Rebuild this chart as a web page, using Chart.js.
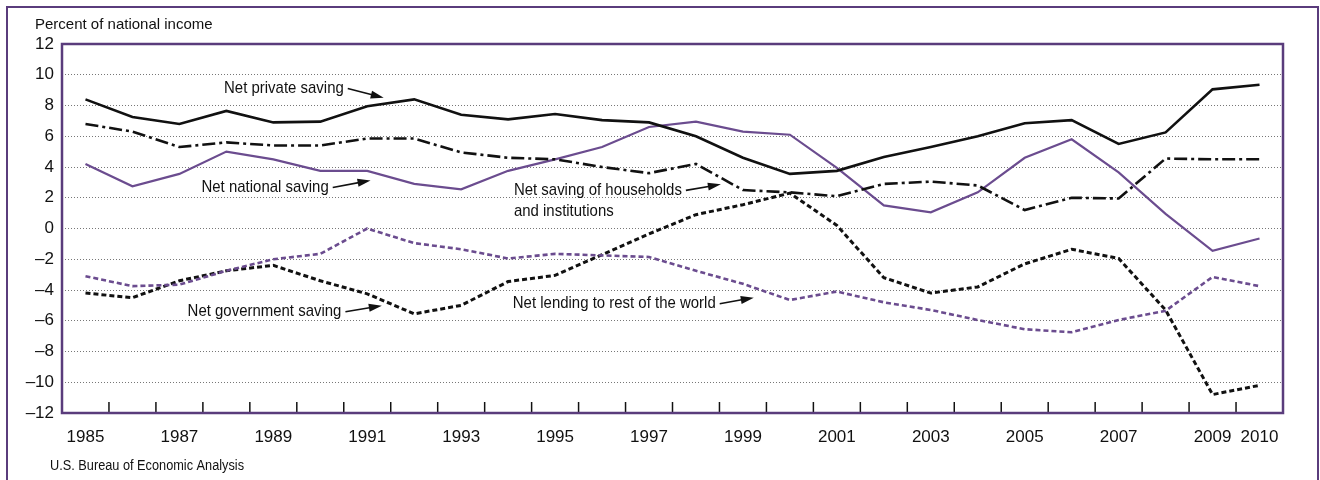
<!DOCTYPE html>
<html>
<head>
<meta charset="utf-8">
<script src="https://cdn.jsdelivr.net/npm/chart.js@4.4.1/dist/chart.umd.min.js"></script>
<style>
  body { margin: 0; background: #fff; }
  #wrap { width: 1320px; height: 480px; }
</style>
</head>
<body>
<div id="wrap"><canvas id="chart" width="1320" height="480"></canvas></div>
<script>
const years = [1985, 1986, 1987, 1988, 1989, 1990, 1991, 1992, 1993, 1994, 1995, 1996, 1997,
    1998, 1999, 2000, 2001, 2002, 2003, 2004, 2005, 2006, 2007, 2008, 2009, 2010];

const netPrivate = [8.4, 7.25, 6.8, 7.65, 6.9, 6.95, 7.95, 8.4, 7.4, 7.1, 7.45, 7.05, 6.9,
    6.0, 4.6, 3.55, 3.75, 4.65, 5.3, 6.0, 6.85, 7.05, 5.5, 6.25, 9.05, 9.35];
const netHouseholds = [6.8, 6.3, 5.3, 5.6, 5.4, 5.4, 5.85, 5.85, 4.95, 4.6, 4.5, 4.0, 3.6,
    4.2, 2.5, 2.35, 2.1, 2.9, 3.05, 2.8, 1.2, 2.0, 1.95, 4.55, 4.5, 4.5];
const netNational = [4.2, 2.75, 3.55, 5.0, 4.5, 3.75, 3.75, 2.9, 2.55, 3.75, 4.5, 5.3, 6.6,
    6.95, 6.3, 6.1, 3.95, 1.5, 1.05, 2.35, 4.6, 5.8, 3.65, 0.95, -1.45, -0.65];
const netLending = [-3.1, -3.75, -3.65, -2.75, -2.0, -1.65, 0, -0.95, -1.35, -1.95, -1.65, -1.75, -1.85,
    -2.75, -3.6, -4.65, -4.1, -4.8, -5.3, -5.95, -6.55, -6.75, -5.95, -5.35, -3.15, -3.75];
const netGovernment = [-4.2, -4.5, -3.4, -2.75, -2.4, -3.4, -4.25, -5.55, -5.0, -3.45, -3.05, -1.7, -0.35,
    0.9, 1.55, 2.3, 0.2, -3.2, -4.2, -3.8, -2.3, -1.35, -1.95, -5.3, -10.8, -10.2];

const yTicks = [-12, -10, -8, -6, -4, -2, 0, 2, 4, 6, 8, 10, 12];

// label text, where it ends (year index, value) and where the arrow points
const notes = [
    { lines: ['Net private saving'], x: 5.5, y: 9.1, tipX: 6.35, tipY: 8.5 },
    { lines: ['Net national saving'], x: 5.18, y: 2.67, tipX: 6.07, tipY: 3.13 },
    { lines: ['Net saving of households', 'and institutions'], x: 12.7, y: 2.48, tipX: 13.53, tipY: 2.87 },
    { lines: ['Net government saving'], x: 5.45, y: -5.41, tipX: 6.31, tipY: -5.02 },
    { lines: ['Net lending to rest of the world'], x: 13.42, y: -4.89, tipX: 14.23, tipY: -4.5 },
];

const PURPLE = '#6b4c8f';
const FRAME = '#5a3c7c';
const SANS = "'Liberation Sans', Arial, sans-serif";

Chart.defaults.font.family = SANS;
Chart.defaults.color = '#111';

// squeeze text horizontally to look like a condensed face
function narrowText(ctx, t, x, y, sx) {
    ctx.save();
    ctx.translate(x, y);
    ctx.scale(sx, 1);
    ctx.fillText(t, 0, 0);
    ctx.restore();
}

const dressing = {
    id: 'dressing',
    afterDraw(chart) {
        const { ctx, chartArea: a, scales } = chart;
        const x = scales.x, y = scales.y;
        ctx.save();

        // small ticks between years, standing on the bottom axis
        ctx.strokeStyle = '#111';
        ctx.lineWidth = 1.5;
        for (let i = 0; i < years.length - 1; i++) {
            const px = (x.getPixelForValue(i) + x.getPixelForValue(i + 1)) / 2;
            ctx.beginPath();
            ctx.moveTo(px, a.bottom);
            ctx.lineTo(px, a.bottom - 11);
            ctx.stroke();
        }

        // plot frame
        ctx.strokeStyle = FRAME;
        ctx.lineWidth = 2.5;
        ctx.strokeRect(a.left, a.top, a.right - a.left, a.bottom - a.top);

        // outer box
        ctx.lineWidth = 2;
        ctx.beginPath();
        ctx.moveTo(7, 490);
        ctx.lineTo(7, 7);
        ctx.lineTo(1318, 7);
        ctx.lineTo(1318, 490);
        ctx.stroke();

        // axis title and source
        ctx.fillStyle = '#111';
        ctx.textBaseline = 'middle';
        ctx.textAlign = 'left';
        ctx.font = '15px ' + SANS;
        ctx.fillText('Percent of national income', a.left - 27, a.top - 19);
        ctx.font = '14px ' + SANS;
        narrowText(ctx, 'U.S. Bureau of Economic Analysis', a.left - 12, a.bottom + 53, 0.91);

        // annotations with arrows
        const sx = 0.88;
        ctx.font = '17px ' + SANS;
        notes.forEach(n => {
            const ex = x.getPixelForValue(n.x);
            const ey = y.getPixelForValue(n.y);
            const w0 = ctx.measureText(n.lines[0]).width * sx;
            const left = ex - w0;
            n.lines.forEach((t, k) => narrowText(ctx, t, left, ey + k * 21, sx));
            const ax = ex + 4, ay = ey;
            const tx = x.getPixelForValue(n.tipX), ty = y.getPixelForValue(n.tipY);
            const ang = Math.atan2(ty - ay, tx - ax);
            ctx.strokeStyle = '#111';
            ctx.lineWidth = 1.6;
            ctx.beginPath();
            ctx.moveTo(ax, ay);
            ctx.lineTo(tx - 8 * Math.cos(ang), ty - 8 * Math.sin(ang));
            ctx.stroke();
            ctx.beginPath();
            ctx.moveTo(tx, ty);
            ctx.lineTo(tx - 13 * Math.cos(ang) - 4 * Math.sin(ang), ty - 13 * Math.sin(ang) + 4 * Math.cos(ang));
            ctx.lineTo(tx - 13 * Math.cos(ang) + 4 * Math.sin(ang), ty - 13 * Math.sin(ang) - 4 * Math.cos(ang));
            ctx.closePath();
            ctx.fillStyle = '#111';
            ctx.fill();
        });
        ctx.restore();
    }
};

function series(data, color, width, dash) {
    return {
        data: data,
        borderColor: color,
        borderWidth: width,
        borderDash: dash,
        pointRadius: 0,
        tension: 0,
        fill: false,
    };
}

new Chart(document.getElementById('chart').getContext('2d'), {
    type: 'line',
    data: {
        labels: years.map(String),
        datasets: [
            series(netPrivate, '#111', 2.6, []),
            series(netHouseholds, '#111', 2.6, [13, 4, 3, 4]),
            series(netNational, PURPLE, 2.2, []),
            series(netLending, PURPLE, 2.6, [5, 3]),
            series(netGovernment, '#111', 3, [5, 3]),
        ],
    },
    options: {
        responsive: false,
        animation: false,
        layout: { padding: { top: 44, right: 37, left: 0, bottom: 0 } },
        plugins: { legend: { display: false }, tooltip: { enabled: false } },
        scales: {
            x: {
                type: 'category',
                offset: true,
                grid: { display: false, drawTicks: false },
                border: { display: false },
                ticks: {
                    autoSkip: false,
                    maxRotation: 0,
                    padding: 14,
                    font: { size: 17 },
                    callback: function (v, i) {
                        const yr = years[i];
                        return (yr % 2 === 1 || yr === 2010) ? String(yr) : '';
                    },
                },
                afterFit: s => { s.height = 67; },
            },
            y: {
                min: -12,
                max: 12,
                afterBuildTicks: s => { s.ticks = yTicks.map(v => ({ value: v })); },
                grid: {
                    drawTicks: false,
                    color: c => (c.tick && Math.abs(c.tick.value) === 12) ? 'rgba(0,0,0,0)' : '#777',
                    lineWidth: 1,
                },
                border: { display: false, dash: [1, 2] },
                ticks: {
                    padding: 8,
                    font: { size: 17 },
                    callback: v => v < 0 ? '\u2013' + Math.abs(v) : String(v),
                },
                afterFit: s => { s.width = 62; },
            },
        },
    },
    plugins: [dressing],
});
</script>
</body>
</html>
